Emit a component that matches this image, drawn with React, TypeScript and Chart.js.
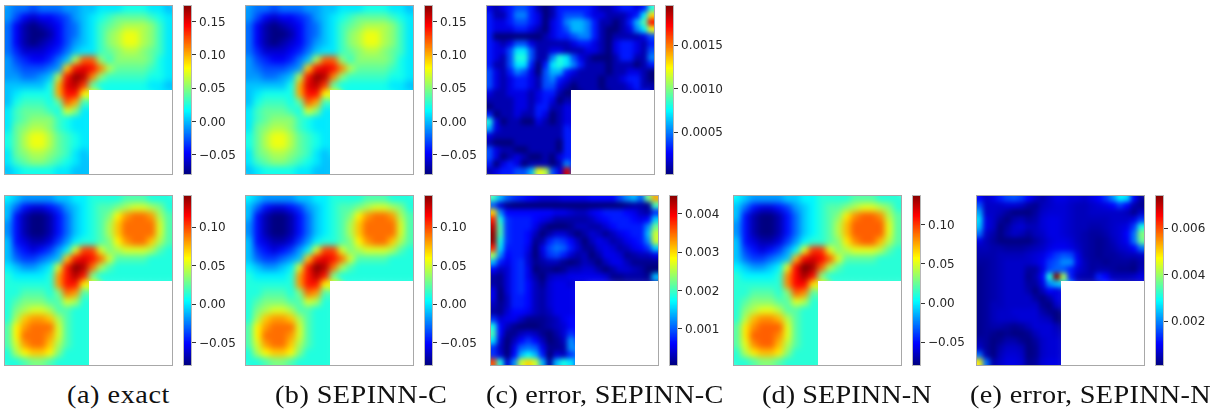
import React, { useEffect, useRef } from "react";
import { Chart, registerables } from "chart.js";

Chart.register(...registerables);

const _ = null;

// Field of panels (a) and (b), top row, in units of 0.01
const exactTop = [
  [-1,-2,-2,-3,-2,-2,-2,-1,-1,0,0,1,1,1,2,2,2,1,1,0],
  [-1,-3,-5,-6,-5,-5,-4,-3,-1,0,1,2,3,4,4,4,4,3,2,1],
  [-2,-5,-7,-8,-7,-6,-5,-3,-2,0,1,3,4,5,6,6,6,5,3,1],
  [-2,-5,-7,-8,-8,-7,-5,-3,-2,0,1,3,5,6,7.5,7.5,6,5,3,1],
  [-2,-5,-7,-8,-7,-6,-5,-3,-1,0,1,3,5,6,7.5,7.5,6,5,3,1],
  [-2,-4,-6,-6,-6,-5,-4,-2,0,1,1,3,4,5,6,6,5,4,3,1],
  [-1,-3,-4,-5,-5,-4,-2,0,6,12,12,5,3,5,5,5,5,4,2,1],
  [-1,-2,-3,-3,-3,-2,-1,9,14,15,14,11,6,4,4,4,4,3,2,1],
  [-1,-1,-2,-2,-1,0,6,14,17,16,11,5,3,3,3,3,3,2,2,1],
  [0,0,0,0,0,2,10,15,16,13,4,2,2,2,2,2,2,1,1,0],
  [0,1,2,2,2,2,10,14,14,8,_,_,_,_,_,_,_,_,_,_],
  [0,2,3,3,3,2,4,12,10,3,_,_,_,_,_,_,_,_,_,_],
  [1,3,4,4,4,3,2,7,5,1,_,_,_,_,_,_,_,_,_,_],
  [1,3,4,5,5,5,3,2,1,1,_,_,_,_,_,_,_,_,_,_],
  [1,4,5,6,6,5,3,2,1,1,_,_,_,_,_,_,_,_,_,_],
  [2,4,6,7.5,7.5,6,4,3,2,1,_,_,_,_,_,_,_,_,_,_],
  [2,4,6,7.5,7.5,6,4,3,2,1,_,_,_,_,_,_,_,_,_,_],
  [1,4,5,6,6,5,4,3,1,0,_,_,_,_,_,_,_,_,_,_],
  [1,3,4,5,5,4,3,2,1,0,_,_,_,_,_,_,_,_,_,_],
  [0,1,2,2,2,2,1,1,0,0,_,_,_,_,_,_,_,_,_,_],
];

// Field of panels (a), (b), (d), bottom row, in units of 0.01
const exactBottom = [
  [0,-1,-2,-2,-2,-2,-1,-1,0,0,1,1,1,1,2,2,2,1,1,1],
  [-1,-3,-5,-6,-6,-5,-4,-2,-1,0,1,2,2,3,4,5,5,4,3,1],
  [-1,-5,-7,-8,-8,-7,-5,-3,-1,0,1,2,3,6,8,9,9,8,4,2],
  [-2,-5,-7,-8,-8,-7,-5,-3,-1,0,1,2,4,7,9,9,9,9,5,2],
  [-2,-5,-7,-8,-8,-7,-5,-3,-1,0,1,2,4,7,9,9,9,9,5,2],
  [-1,-5,-6,-7,-7,-6,-4,-2,0,1,1,2,3,6,8,9,9,7,4,2],
  [-1,-4,-5,-6,-5,-4,-2,0,5,10,10,5,3,4,5,5,5,4,2,1],
  [-1,-3,-4,-4,-3,-2,-1,7,11,12,11,9,5,2,2,2,2,1,1,1],
  [0,-1,-2,-2,-1,0,5,11,14,13,9,4,2,1,1,1,1,1,1,1],
  [1,0,0,0,0,1,8,11,13,11,3,1,1,1,1,1,1,1,1,1],
  [1,1,1,1,1,1,8,11,11,6,_,_,_,_,_,_,_,_,_,_],
  [1,1,2,2,2,1,3,9,8,2,_,_,_,_,_,_,_,_,_,_],
  [1,2,3,3,3,2,2,5,4,1,_,_,_,_,_,_,_,_,_,_],
  [1,3,4,5,5,4,2,2,1,1,_,_,_,_,_,_,_,_,_,_],
  [1,4,7,8,8,7,4,2,1,1,_,_,_,_,_,_,_,_,_,_],
  [2,6,8,9,9,9,5,2,1,1,_,_,_,_,_,_,_,_,_,_],
  [2,6,9,9,9,8,5,2,1,1,_,_,_,_,_,_,_,_,_,_],
  [2,5,8,9,9,7,4,2,1,1,_,_,_,_,_,_,_,_,_,_],
  [1,4,6,7,7,6,3,1,1,1,_,_,_,_,_,_,_,_,_,_],
  [1,1,2,3,3,2,1,1,1,1,_,_,_,_,_,_,_,_,_,_],
];

const H = [_,_,_,_,_,_,_,_,_,_,_,_];

// Error fields, units of 0.0001
const errorTopC = [
  [2,1,2,3,4,4,3,1,0,1,3,3,3,3,3,2,1,1,2,3,3,2,3,8],
  [3,1,1,3,5,5,3,2,0,1,3,4,4,4,3,2,2,1,1,1,2,3,7,13],
  [3,2,2,3,4,4,3,2,0,2,3,5,6,6,5,3,1,1,0,1,3,6,9,17],
  [3,2,2,2,3,3,2,1,0,2,3,4,6,6,5,3,1,0,0,1,2,5,7,12],
  [3,0,0,0,0,0,0,0,1,2,3,3,4,5,5,3,1,0,1,1,1,1,2,4],
  [3,2,1,2,4,4,2,1,1,1,1,1,2,3,3,2,1,0,2,3,3,2,1,3],
  [3,2,2,4,7,7,4,1,1,2,2,1,1,1,2,2,1,0,2,3,3,2,1,4],
  [3,2,1,4,8,8,4,1,1,5,8,7,4,2,1,0,0,0,1,3,3,1,1,5],
  [3,1,1,4,7,7,3,0,3,7,8,7,5,3,1,1,1,0,1,1,1,0,1,3],
  [4,2,1,3,5,4,2,0,4,6,6,3,2,1,1,1,1,0,1,1,2,2,1,0],
  [4,2,1,2,3,3,2,1,4,5,3,2,1,1,1,1,0,1,1,2,3,3,1,0],
  [4,2,1,2,3,3,2,1,4,4,2,1,0,1,1,1,0,1,1,1,2,3,1,1],
  [2,1,1,2,2,2,1,2,3,3,1,0,...H],
  [1,1,1,1,2,2,1,2,3,2,0,1,...H],
  [0,1,1,1,2,2,1,3,3,1,1,2,...H],
  [3,0,1,1,2,1,1,3,2,0,1,2,...H],
  [8,2,0,1,1,0,0,2,1,0,1,2,...H],
  [6,2,1,1,1,1,1,1,1,1,1,3,...H],
  [2,1,1,1,1,1,1,1,1,1,1,3,...H],
  [1,0,0,0,1,1,1,1,1,1,0,3,...H],
  [4,2,1,1,0,0,1,1,1,1,0,3,...H],
  [4,2,0,1,2,1,0,0,1,0,2,3,...H],
  [3,0,2,3,2,0,1,1,1,0,1,5,...H],
  [1,2,3,3,4,4,6,12,11,4,2,18,...H],
];

const errorBottomC = [
  [20,14,10,8,7,6,5,4,4,4,5,5,5,5,6,6,6,6,9,12,14,10,22,32],
  [10,4,1,0,0,0,0,0,0,0,0,0,0,0,0,0,0,0,0,1,2,2,1,20],
  [30,12,6,6,6,6,6,6,6,5,5,4,3,3,5,6,7,7,7,6,5,3,2,8],
  [38,18,8,7,7,7,6,5,4,2,2,2,2,2,3,5,6,7,7,7,6,5,6,15],
  [42,20,8,7,7,7,5,2,0,0,0,1,3,3,2,2,4,6,7,7,7,7,12,22],
  [44,20,8,7,7,6,3,0,2,4,4,2,0,2,4,3,1,3,5,6,7,7,14,26],
  [44,18,8,7,7,6,1,2,7,9,8,6,3,0,3,5,4,2,3,5,6,7,12,26],
  [38,16,7,7,7,5,0,5,9,11,10,7,4,1,1,4,5,4,2,3,5,6,8,15],
  [24,12,6,7,7,4,0,4,8,9,7,4,2,3,0,2,5,5,4,1,2,3,3,5],
  [14,7,5,7,8,4,1,2,3,3,1,0,1,3,2,0,3,5,5,3,1,1,1,1],
  [6,3,4,7,8,5,0,1,1,0,1,3,3,4,4,2,0,2,4,4,3,2,0,0],
  [2,1,4,7,8,5,2,0,3,4,4,5,5,5,5,5,4,1,1,2,2,2,1,14],
  [2,1,4,7,8,6,3,1,4,5,5,4,...H],
  [5,0,4,7,8,6,3,2,4,5,5,5,...H],
  [5,0,3,7,7,6,3,2,4,5,5,5,...H],
  [3,1,3,7,7,6,3,2,4,5,5,5,...H],
  [2,1,4,6,6,5,3,2,3,5,5,5,...H],
  [8,4,5,5,3,1,1,1,2,3,5,6,...H],
  [18,6,3,1,0,0,0,1,2,3,4,6,...H],
  [20,6,1,1,3,4,3,1,0,2,4,8,...H],
  [16,4,0,3,6,8,6,3,0,1,3,12,...H],
  [8,3,0,5,10,11,10,5,1,1,2,12,...H],
  [8,4,0,6,14,17,14,7,0,4,3,8,...H],
  [36,18,4,12,26,30,26,14,2,14,18,16,...H],
];

const errorBottomN = [
  [10,6,8,12,15,16,14,10,6,4,6,8,8,7,7,6,8,10,14,20,28,26,10,3],
  [16,6,6,6,7,7,6,3,2,5,6,7,7,6,5,5,6,7,8,10,14,10,4,2],
  [22,6,6,5,3,1,1,1,3,6,7,7,7,6,5,5,6,6,6,6,6,5,2,6],
  [26,8,6,3,1,4,5,3,4,7,8,8,7,6,5,5,5,5,5,6,6,6,8,14],
  [24,8,6,1,3,6,7,5,5,7,8,8,7,6,5,5,4,4,5,6,7,8,14,30],
  [18,6,4,1,4,6,5,3,5,6,8,8,7,6,5,4,3,3,4,6,7,10,18,38],
  [8,5,3,1,1,1,1,1,3,5,7,8,8,7,5,4,3,2,3,5,7,9,18,36],
  [5,5,4,4,3,3,3,4,5,6,8,9,9,8,6,4,3,2,3,4,6,7,10,18],
  [4,4,4,5,5,5,5,6,7,8,11,14,16,15,8,4,3,2,3,3,4,5,5,6],
  [3,3,4,5,6,6,6,6,7,9,14,16,20,20,9,5,3,3,2,3,3,3,2,4],
  [2,3,4,5,6,6,6,3,3,8,15,17,16,12,7,5,3,4,4,3,2,2,1,5],
  [2,3,4,5,6,6,6,2,4,10,30,74,40,12,5,4,4,12,10,5,5,5,6,8],
  [2,3,4,5,6,6,6,3,3,8,20,24,...H],
  [2,3,4,5,6,6,6,4,1,5,10,8,...H],
  [2,3,4,5,6,6,6,6,3,1,4,8,...H],
  [2,3,5,5,6,6,6,6,6,2,1,6,...H],
  [2,3,5,6,6,7,7,7,7,4,2,1,...H],
  [2,3,5,6,6,6,7,7,7,6,5,1,...H],
  [2,3,4,4,3,2,3,5,7,7,7,5,...H],
  [2,3,2,1,2,1,1,2,5,7,7,6,...H],
  [4,3,1,2,4,4,2,1,3,6,7,7,...H],
  [6,3,1,4,6,6,5,1,2,6,7,7,...H],
  [18,4,1,5,7,7,6,1,2,6,7,7,...H],
  [48,18,4,6,8,8,7,2,3,7,8,8,...H],
];

// Colour-bar ticks and labels
const ticksTop = [-0.05, 0, 0.05, 0.1, 0.15];
const labelsTop = ["\u22120.05", "0.00", "0.05", "0.10", "0.15"];
const ticksTopC = [0.0005, 0.001, 0.0015];
const labelsTopC = ["0.0005", "0.0010", "0.0015"];
const ticksBottom = [-0.05, 0, 0.05, 0.1];
const labelsBottom = ["\u22120.05", "0.00", "0.05", "0.10"];
const ticksBottomC = [0.001, 0.002, 0.003, 0.004];
const labelsBottomC = ["0.001", "0.002", "0.003", "0.004"];
const ticksBottomN = [0.002, 0.004, 0.006];
const labelsBottomN = ["0.002", "0.004", "0.006"];

const captions = ["(a) exact", "(b) SEPINN-C", "(c) error, SEPINN-C", "(d) SEPINN-N", "(e) error, SEPINN-N"];

function jet(t: number) {
  const c = (v: number) => Math.round(255 * Math.max(0, Math.min(1, v)));
  return `rgb(${c(Math.min(4 * t - 1.5, -4 * t + 4.5))},${c(Math.min(4 * t - 0.5, -4 * t + 3.5))},${c(Math.min(4 * t + 0.5, -4 * t + 2.5))})`;
}

const smoothPlugin = {
  id: "smooth",
  afterDatasetsDraw(chart: any, _a: any, opts: any) {
    const { ctx, canvas, scales } = chart;
    const W = canvas.width, Ht = canvas.height, p = 12;
    const n = opts.n;
    const hx = Math.round(scales.x.getPixelForValue(n / 2));
    const hy = Math.round(scales.y.getPixelForValue(n / 2));
    const copy = document.createElement("canvas");
    copy.width = W; copy.height = Ht;
    copy.getContext("2d")!.drawImage(canvas, 0, 0);
    const off = document.createElement("canvas");
    off.width = W + 2 * p; off.height = Ht + 2 * p;
    const o = off.getContext("2d")!;
    o.imageSmoothingEnabled = false;
    o.drawImage(copy, p, p);
    o.drawImage(copy, 0, 0, 1, Ht, 0, p, p, Ht);
    o.drawImage(copy, W - 1, 0, 1, hy, W + p, p, p, hy);
    o.drawImage(copy, 0, 0, W, 1, p, 0, W, p);
    o.drawImage(copy, 0, Ht - 1, hx, 1, p, Ht + p, hx, p);
    o.drawImage(copy, hx, hy - 1, W - hx, 1, p + hx, p + hy, W - hx + p, Ht - hy + p);
    o.drawImage(copy, hx - 1, hy, 1, Ht - hy, p + hx, p + hy, 12, Ht - hy + p);
    ctx.save();
    ctx.clearRect(0, 0, W, Ht);
    ctx.beginPath();
    ctx.moveTo(0, 0); ctx.lineTo(W, 0); ctx.lineTo(W, hy); ctx.lineTo(hx, hy); ctx.lineTo(hx, Ht); ctx.lineTo(0, Ht);
    ctx.closePath();
    ctx.clip();
    ctx.filter = `blur(${opts.blur}px)`;
    ctx.drawImage(off, -p, -p);
    ctx.restore();
  },
};

const framePlugin = {
  id: "frame",
  afterDraw(chart: any, _a: any, opts: any) {
    const { ctx, chartArea: a } = chart;
    ctx.save();
    ctx.strokeStyle = opts.color;
    ctx.lineWidth = 1;
    ctx.strokeRect(a.left + 0.5, a.top + 0.5, a.right - a.left - 1, a.bottom - a.top - 1);
    ctx.restore();
  },
};

function Heat({ field, unit, lo, hi, left, top, w, h, blur }: any) {
  const ref = useRef<HTMLCanvasElement>(null);
  useEffect(() => {
    const n = field.length;
    const pts: any[] = [];
    const colors: string[] = [];
    field.forEach((row: (number | null)[], r: number) =>
      row.forEach((v, c) => {
        if (v === null) return;
        pts.push({ x: c + 0.5, y: r + 0.5 });
        colors.push(jet((v * unit - lo) / (hi - lo)));
      })
    );
    const chart = new Chart(ref.current!, {
      type: "scatter",
      data: {
        datasets: [{
          data: pts,
          pointStyle: "rect",
          pointRadius: (w / n) / 1.414 + 0.6,
          pointBorderWidth: 0,
          pointBackgroundColor: colors,
        }],
      },
      options: {
        animation: false,
        responsive: false,
        devicePixelRatio: 1,
        layout: { padding: 0, autoPadding: false },
        events: [],
        scales: {
          x: { type: "linear", display: false, min: 0, max: n },
          y: { type: "linear", display: false, min: 0, max: n, reverse: true },
        },
        plugins: {
          legend: { display: false },
          tooltip: { enabled: false },
          smooth: { blur, n },
          frame: { color: "#a8a8a8" },
        },
      } as any,
      plugins: [smoothPlugin, framePlugin],
    } as any);
    return () => chart.destroy();
  }, []);
  return <canvas ref={ref} width={w} height={h} style={{ position: "absolute", left, top, display: "block" }} />;
}

function ColorBar({ lo, hi, ticks, labels, left, top, h }: any) {
  const ref = useRef<HTMLCanvasElement>(null);
  const barW = 9, labelW = 62;
  useEffect(() => {
    const bands = 128;
    const datasets = Array.from({ length: bands }, (_x, i) => ({
      data: [[lo + ((hi - lo) * i) / bands, Math.min(hi, lo + ((hi - lo) * (i + 1.4)) / bands)]],
      backgroundColor: jet((i + 0.5) / bands),
      borderWidth: 0,
      barPercentage: 1,
      categoryPercentage: 1,
      grouped: false,
    }));
    const chart = new Chart(ref.current!, {
      type: "bar",
      data: { labels: ["colour"], datasets: datasets as any },
      options: {
        animation: false,
        responsive: false,
        devicePixelRatio: 1,
        layout: { padding: 0, autoPadding: false },
        events: [],
        scales: {
          x: { display: false },
          y: {
            position: "right",
            min: lo,
            max: hi,
            afterBuildTicks: (s: any) => { s.ticks = ticks.map((value: number) => ({ value })); },
            afterFit: (s: any) => {
              s.paddingTop = 0; s.paddingBottom = 0; s.width = labelW;
            },
            border: { display: false },
            grid: { drawOnChartArea: false, drawTicks: true, tickLength: 4, color: "#333", lineWidth: 1 },
            ticks: {
              autoSkip: false,
              padding: 3,
              maxRotation: 0,
              labelOffset: 1,
              color: "#262626",
              font: { family: "'DejaVu Sans'", size: 12 },
              callback: (_v: any, i: number) => labels[i],
            },
          },
        },
        plugins: { legend: { display: false }, tooltip: { enabled: false }, frame: { color: "#b8b8b8" } },
      } as any,
      plugins: [framePlugin],
    } as any);
    return () => chart.destroy();
  }, []);
  return <canvas ref={ref} width={barW + labelW} height={h} style={{ position: "absolute", left, top, display: "block" }} />;
}

const ROW1 = { top: 5, h: 170 };
const ROW2 = { top: 195, h: 171 };
const PW = 169;

const captionStyle = (left: number, spacing: number): React.CSSProperties => ({
  position: "absolute",
  left,
  top: 381,
  fontFamily: "'Liberation Serif'",
  fontSize: 25,
  lineHeight: "28px",
  color: "#111",
  whiteSpace: "nowrap",
  letterSpacing: spacing,
  transform: "scaleX(1.13)",
  transformOrigin: "left center",
});

export default function App() {
  const sm = 3, fine = 2.4;
  const rT = { lo: -0.0805, hi: 0.175 };
  const rB = { lo: -0.0803, hi: 0.1417 };
  const rN = { lo: -0.0802, hi: 0.1375 };
  return (
    <div style={{ position: "absolute", left: 0, top: 0, width: 1221, height: 412, background: "#fff", overflow: "hidden" }}>
      <Heat field={exactTop} unit={0.01} {...rT} left={4} {...ROW1} w={PW} blur={sm} />
      <ColorBar {...rT} ticks={ticksTop} labels={labelsTop} left={183} {...ROW1} />
      <Heat field={exactTop} unit={0.01} {...rT} left={245} {...ROW1} w={PW} blur={sm} />
      <ColorBar {...rT} ticks={ticksTop} labels={labelsTop} left={424} {...ROW1} />
      <Heat field={errorTopC} unit={0.0001} lo={0.00001} hi={0.00196} left={486} {...ROW1} w={PW} blur={fine} />
      <ColorBar lo={0.00001} hi={0.00196} ticks={ticksTopC} labels={labelsTopC} left={665} {...ROW1} />

      <Heat field={exactBottom} unit={0.01} {...rB} left={4} {...ROW2} w={PW} blur={sm} />
      <ColorBar {...rB} ticks={ticksBottom} labels={labelsBottom} left={183} {...ROW2} />
      <Heat field={exactBottom} unit={0.01} {...rB} left={245} {...ROW2} w={PW} blur={sm} />
      <ColorBar {...rB} ticks={ticksBottom} labels={labelsBottom} left={424} {...ROW2} />
      <Heat field={errorBottomC} unit={0.0001} lo={0.00003} hi={0.00449} left={490} {...ROW2} w={PW} blur={fine} />
      <ColorBar lo={0.00003} hi={0.00449} ticks={ticksBottomC} labels={labelsBottomC} left={669} {...ROW2} />
      <Heat field={exactBottom} unit={0.01} {...rN} left={733} {...ROW2} w={PW} blur={sm} />
      <ColorBar {...rN} ticks={ticksBottom} labels={labelsBottom} left={912} {...ROW2} />
      <Heat field={errorBottomN} unit={0.0001} lo={0.00008} hi={0.00742} left={976} {...ROW2} w={PW} blur={fine} />
      <ColorBar lo={0.00008} hi={0.00742} ticks={ticksBottomN} labels={labelsBottomN} left={1155} {...ROW2} />

      <span style={captionStyle(67, 0.48)}>{captions[0]}</span>
      <span style={captionStyle(275, 0.38)}>{captions[1]}</span>
      <span style={captionStyle(486, 0.19)}>{captions[2]}</span>
      <span style={captionStyle(762, 0.07)}>{captions[3]}</span>
      <span style={captionStyle(970, 0.28)}>{captions[4]}</span>
    </div>
  );
}
